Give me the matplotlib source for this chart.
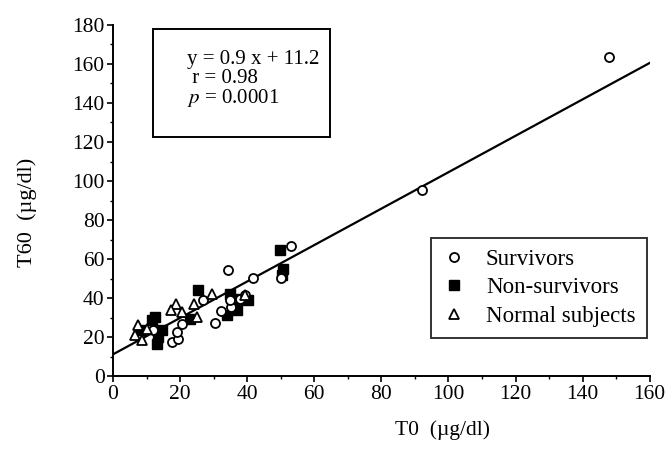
import matplotlib.pyplot as plt
from matplotlib.ticker import MultipleLocator

plt.rcParams['font.family'] = ['Liberation Serif', 'DejaVu Serif']
plt.rcParams['mathtext.fontset'] = 'stix'

# survivors (open circles)
surv_x = [147.8, 92.0, 53.0, 50.1, 34.4, 41.6, 26.9, 32.1, 30.4, 35.1, 34.9,
          37.8, 39.3, 17.5, 19.5, 19.0, 20.5, 12.0]
surv_y = [163.6, 95.6, 66.5, 50.4, 54.2, 50.4, 39.2, 33.4, 27.3, 35.4, 38.9,
          39.7, 41.7, 17.5, 19.3, 22.6, 26.9, 23.5]

# non-survivors (filled squares)
nons_x = [49.8, 50.8, 50.5, 25.4, 34.9, 37.8, 40.3, 33.9, 36.9, 22.9, 12.5,
          11.5, 13.0, 14.5, 13.5, 8.0]
nons_y = [64.5, 55.0, 52.0, 44.0, 42.3, 39.7, 38.9, 31.2, 33.7, 29.5, 30.3,
          28.6, 16.7, 23.5, 20.0, 23.5]

# normal subjects (open triangles)
norm_x = [18.8, 17.2, 20.5, 24.2, 29.4, 24.9, 7.5, 6.6, 8.5, 10.0, 39.3]
norm_y = [37.2, 33.7, 32.9, 37.2, 42.3, 30.3, 26.0, 21.0, 18.4, 24.4, 41.4]

# regression line as drawn
fit_x = [0, 160]
fit_y = [11.2, 160.5]

fig = plt.figure(figsize=(6.65, 4.61), dpi=100)
ax = fig.add_axes([0.170, 0.184, 0.807, 0.762])

ax.plot(fit_x, fit_y, color='black', lw=1.6, zorder=1)
ax.plot(surv_x, surv_y, 'o', mfc='white', mec='black', mew=1.3, ms=6.5,
        ls='none', label='Survivors', zorder=3)
ax.plot(nons_x, nons_y, 's', mfc='black', mec='black', ms=6.5,
        ls='none', label='Non-survivors', zorder=2)
ax.plot(norm_x, norm_y, '^', mfc='white', mec='black', mew=1.3, ms=7,
        ls='none', label='Normal subjects', zorder=3)

ax.set_xlim(0, 160)
ax.set_ylim(0, 180)
ax.xaxis.set_major_locator(MultipleLocator(20))
ax.yaxis.set_major_locator(MultipleLocator(20))
ax.xaxis.set_minor_locator(MultipleLocator(10))
ax.yaxis.set_minor_locator(MultipleLocator(10))
ax.spines['top'].set_visible(False)
ax.spines['right'].set_visible(False)
ax.spines['left'].set_linewidth(1.4)
ax.spines['bottom'].set_linewidth(1.4)
ax.tick_params(which='major', direction='out', length=4, width=1.2,
               labelsize=15.5, pad=2)
ax.tick_params(which='minor', direction='out', length=2, width=1)

ax.set_xlabel('T0  (\u00b5g/dl)', fontsize=15.5)
ax.set_ylabel('T60  (\u00b5g/dl)', fontsize=16)
ax.xaxis.set_label_coords(0.613, -0.125)
ax.yaxis.set_label_coords(-0.142, 0.467)

ax.text(0.138, 0.928,
        'y = 0.9 x + 11.2\n r = 0.98\n$p$ = 0.0001',
        transform=ax.transAxes, fontsize=15, va='top', ha='left',
        linespacing=0.96)
ax.add_patch(plt.Rectangle((0.074, 0.682), 0.33, 0.307,
                           transform=ax.transAxes, fill=False,
                           ec='black', lw=1.4, clip_on=False))

leg = ax.legend(loc='lower right', bbox_to_anchor=(0.995, 0.108), fontsize=16.5,
                frameon=True, fancybox=False, edgecolor='black',
                handletextpad=0.9, borderpad=0.5, labelspacing=0.32,
                borderaxespad=0.0, handlelength=1.0)
leg.get_frame().set_linewidth(1.4)

fig.savefig('out.png', dpi=100)
